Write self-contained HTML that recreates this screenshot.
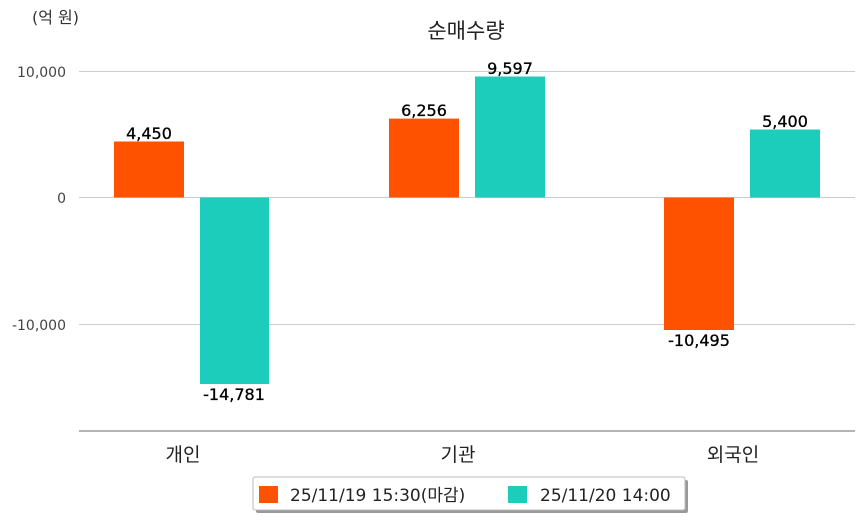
<!DOCTYPE html>
<html><head><meta charset="utf-8"><style>
body{margin:0;background:#fff;width:863px;height:520px;overflow:hidden}
text{font-family:"DejaVu Sans","Noto Sans CJK KR",sans-serif}
</style></head><body>
<svg width="863" height="520" xmlns="http://www.w3.org/2000/svg">
<text x="32" y="23" font-size="16" fill="#333">(억 원)</text>
<text x="466" y="38" font-size="21" fill="#222" text-anchor="middle">순매수량</text>
<g stroke="#cccccc" stroke-width="1">
<line x1="79" y1="71.5" x2="855" y2="71.5"/>
<line x1="79" y1="197.5" x2="855" y2="197.5"/>
<line x1="79" y1="324.5" x2="855" y2="324.5"/>
</g>
<line x1="79" y1="431" x2="855" y2="431" stroke="#888" stroke-width="1.2"/>
<g font-size="14" fill="#444" text-anchor="end">
<text x="66" y="77">10,000</text>
<text x="66" y="203">0</text>
<text x="66" y="330">-10,000</text>
</g>
<g fill="#ff5200">
<rect x="114" y="141.5" width="70" height="56"/>
<rect x="389" y="118.6" width="70" height="78.9"/>
<rect x="664" y="197.5" width="70" height="132.5"/>
</g>
<g fill="#1ccdbb">
<rect x="200" y="197.5" width="69" height="186.5"/>
<rect x="475" y="76.5" width="70" height="121"/>
<rect x="750" y="129.5" width="70" height="68"/>
</g>
<g font-size="16" fill="#000" text-anchor="middle" stroke="#000" stroke-width="0.3">
<text x="149" y="139">4,450</text>
<text x="234" y="400">-14,781</text>
<text x="424" y="116">6,256</text>
<text x="510" y="74">9,597</text>
<text x="699" y="346">-10,495</text>
<text x="785" y="127">5,400</text>
</g>
<g font-size="19" fill="#222" text-anchor="middle">
<text x="183" y="461">개인</text>
<text x="458" y="461">기관</text>
<text x="733" y="461">외국인</text>
</g>
<rect x="256" y="480" width="432" height="33" fill="#999" rx="2"/>
<rect x="253" y="477" width="432" height="33" fill="#fff" stroke="#bbb" rx="2"/>
<rect x="259" y="486" width="19" height="17" fill="#ff5200"/>
<text x="290" y="501" font-size="17" fill="#222">25/11/19 15:30(마감)</text>
<rect x="508" y="486" width="19" height="17" fill="#1ccdbb"/>
<text x="540" y="501" font-size="17" fill="#222">25/11/20 14:00</text>
</svg>
</body></html>
